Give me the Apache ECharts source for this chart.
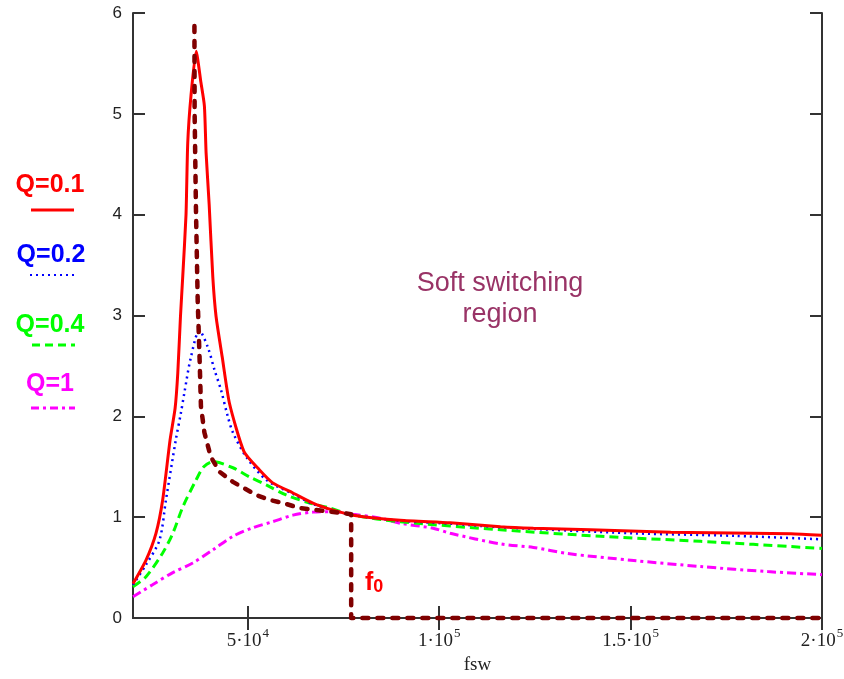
<!DOCTYPE html>
<html><head><meta charset="utf-8">
<script src="https://cdn.jsdelivr.net/npm/echarts@6/dist/echarts.min.js"></script>
<style>html,body{margin:0;padding:0;background:#fff}#c{width:844px;height:679px}</style>
</head><body><div id="c"></div>
<script>
// ---- tick labels ----
const xTicks = [50000, 100000, 150000, 200000];
const xTickMant = ['5', '1', '1.5', '2'];
const xTickExp = ['4', '5', '5', '5'];
const xName = 'fsw';

// ---- Q = 0.1 (red, solid) ----
const q01F = [20000,23400,26000,27750,29700,31000,31700,32400,33000,33850,34300,35150,36500,37750,38650,39100,39900,40850,41700,43300,45200,49000,53000,56500,61800,67000,72300,77500,89800,102900,116000,124600,139500,160500,191900,200000];
const q01G = [0.34,0.575,0.84,1.17,1.77,2.08,2.43,2.99,3.39,4.0,4.71,5.18,5.62,5.31,5.08,4.61,4.1,3.38,2.99,2.59,2.13,1.65,1.47,1.34,1.24,1.14,1.07,1.02,0.97,0.945,0.905,0.89,0.875,0.85,0.835,0.82];

// ---- Q = 0.2 (blue, dotted) ----
const q02F = [20000,23400,26900,28600,31200,32500,33400,35150,37350,39500,41300,43000,44750,46100,49550,54800,61800,67000,72300,77500,89800,102900,116000,150800,177000,200000];
const q02G = [0.33,0.53,0.77,1.17,1.77,2.03,2.23,2.59,2.85,2.69,2.46,2.26,2.0,1.84,1.60,1.37,1.23,1.13,1.07,1.02,0.965,0.935,0.90,0.84,0.815,0.78];

// ---- Q = 0.4 (green, dashed) ----
const q04F = [20000,23400,27750,30400,33000,36500,38500,40850,46100,50400,54800,60000,66200,71400,77500,89800,116000,142200,168300,200000];
const q04G = [0.31,0.41,0.645,0.84,1.10,1.37,1.50,1.55,1.49,1.40,1.32,1.22,1.14,1.09,1.02,0.955,0.875,0.81,0.76,0.69];

// ---- Q = 1 (magenta, dash-dot) ----
const q1F = [20000,25100,30400,35600,40850,46100,51300,56500,61800,67000,72300,77500,84600,89800,98400,102900,116000,124600,133400,150800,168300,185800,200000];
const q1G = [0.21,0.33,0.45,0.545,0.675,0.81,0.895,0.955,1.02,1.05,1.055,1.03,0.99,0.94,0.89,0.84,0.735,0.70,0.64,0.57,0.51,0.46,0.43];

// ---- soft-switching boundary (dark red, thick dashed) ----
const bndF = [36050,36100,36450,36900,37350,37750,38650,40300,42600,46100,52200,55800,59200,63600,71500,77000,77000,200000];
const bndG = [5.87,5.0,4.05,3.15,2.63,2.1,1.84,1.60,1.45,1.35,1.22,1.17,1.14,1.09,1.055,1.03,0,0];

const pairs = (f, g) => f.map((v, i) => [v, g[i]]);

const serif = '"Liberation Serif","Times New Roman",serif';
const sans = '"Liberation Sans",Arial,sans-serif';

const chart = echarts.init(document.getElementById('c'), null, {renderer: 'canvas'});

const axisLine = {show: true, lineStyle: {color: '#333', width: 2}};
const tickStyle = {lineStyle: {color: '#333', width: 2}};

chart.setOption({
  animation: false,
  backgroundColor: '#fff',
  grid: {left: 133, right: 22, top: 13, bottom: 61, containLabel: false, outerBoundsMode: 'none'},
  xAxis: [{
    type: 'value', min: 20000, max: 200000, position: 'bottom',
    name: xName, nameLocation: 'middle', nameGap: 37,
    nameTextStyle: {fontFamily: serif, fontSize: 19, color: '#222'},
    axisLine: axisLine,
    axisTick: Object.assign({show: true, inside: true, length: 12, customValues: xTicks}, tickStyle),
    splitLine: {show: false},
    axisLabel: {
      customValues: xTicks, margin: 9, showMinLabel: true, showMaxLabel: true, hideOverlap: false,
      formatter: v => { const i = xTicks.indexOf(v); return i < 0 ? '' : '{b|' + xTickMant[i] + '\u00b7' + '10}{s|' + xTickExp[i] + '}'; },
      rich: {
        b: {fontFamily: serif, fontSize: 19, color: '#222', lineHeight: 24, verticalAlign: 'bottom'},
        s: {fontFamily: serif, fontSize: 13, color: '#222', lineHeight: 24, verticalAlign: 'top', padding: [0, 0, 0, 1]}
      }
    }
  }, {
    type: 'value', min: 20000, max: 200000, position: 'top',
    axisLine: axisLine,
    axisTick: Object.assign({show: true, inside: true, length: 12, customValues: xTicks}, tickStyle),
    axisLabel: {show: false}, splitLine: {show: false}
  }],
  yAxis: [{
    type: 'value', min: 0, max: 6, interval: 1, position: 'left',
    axisLine: axisLine,
    axisTick: Object.assign({show: true, inside: true, length: 12}, tickStyle),
    splitLine: {show: false},
    axisLabel: {margin: 11, fontFamily: sans, fontSize: 17, color: '#222'}
  }, {
    type: 'value', min: 0, max: 6, interval: 1, position: 'right',
    axisLine: axisLine,
    axisTick: Object.assign({show: true, inside: true, length: 12}, tickStyle),
    axisLabel: {show: false}, splitLine: {show: false}
  }],
  series: [
    {name: 'Q=1', type: 'line', data: pairs(q1F, q1G), showSymbol: false, smooth: 0.3,
     lineStyle: {color: '#ff00ff', width: 3, type: [9, 4, 3, 4]}},
    {name: 'Q=0.4', type: 'line', data: pairs(q04F, q04G), showSymbol: false, smooth: 0.3,
     lineStyle: {color: '#00ff00', width: 3, type: [9, 5]}},
    {name: 'Q=0.2', type: 'line', data: pairs(q02F, q02G), showSymbol: false, smooth: 0.3,
     lineStyle: {color: '#0000ff', width: 2.5, type: [2, 4]}},
    {name: 'Q=0.1', type: 'line', data: pairs(q01F, q01G), showSymbol: false, smooth: 0.2,
     lineStyle: {color: '#ff0000', width: 3, type: 'solid'}},
    {name: 'boundary', type: 'line', data: pairs(bndF, bndG), showSymbol: false, clip: false,
     lineStyle: {color: '#800000', width: 4.5, type: [6, 9], cap: 'round', join: 'round'}}
  ],
  graphic: [
    {type: 'text', x: 50, y: 185, style: {text: 'Q=0.1', fill: '#ff0000', font: 'bold 25px ' + sans, textAlign: 'center', textVerticalAlign: 'middle'}},
    {type: 'line', shape: {x1: 31, y1: 210, x2: 74, y2: 210}, style: {stroke: '#ff0000', lineWidth: 3}},
    {type: 'text', x: 51, y: 255, style: {text: 'Q=0.2', fill: '#0000ff', font: 'bold 25px ' + sans, textAlign: 'center', textVerticalAlign: 'middle'}},
    {type: 'line', shape: {x1: 30, y1: 275, x2: 74, y2: 275}, style: {stroke: '#0000ff', lineWidth: 2, lineDash: [2, 4]}},
    {type: 'text', x: 50, y: 325, style: {text: 'Q=0.4', fill: '#00ff00', font: 'bold 25px ' + sans, textAlign: 'center', textVerticalAlign: 'middle'}},
    {type: 'line', shape: {x1: 32, y1: 345, x2: 75, y2: 345}, style: {stroke: '#00ff00', lineWidth: 3, lineDash: [8, 5]}},
    {type: 'text', x: 50, y: 384, style: {text: 'Q=1', fill: '#ff00ff', font: 'bold 25px ' + sans, textAlign: 'center', textVerticalAlign: 'middle'}},
    {type: 'line', shape: {x1: 31, y1: 408, x2: 75, y2: 408}, style: {stroke: '#ff00ff', lineWidth: 3, lineDash: [8, 4, 3, 4]}},
    {type: 'text', x: 500, y: 299, style: {text: 'Soft switching\nregion', fill: '#993366', font: '27px ' + sans, lineHeight: 31, textAlign: 'center', textVerticalAlign: 'middle'}},
    {type: 'text', x: 365, y: 581, style: {text: '{f|f}{s|0}', textVerticalAlign: 'middle', textAlign: 'left',
      rich: {f: {fill: '#ff0000', font: 'bold 25px ' + sans, lineHeight: 30, verticalAlign: 'bottom'},
             s: {fill: '#ff0000', font: 'bold 18px ' + sans, lineHeight: 24, verticalAlign: 'bottom', padding: [0, 0, 0, 0]}}}}
  ]
});
</script></body></html>
